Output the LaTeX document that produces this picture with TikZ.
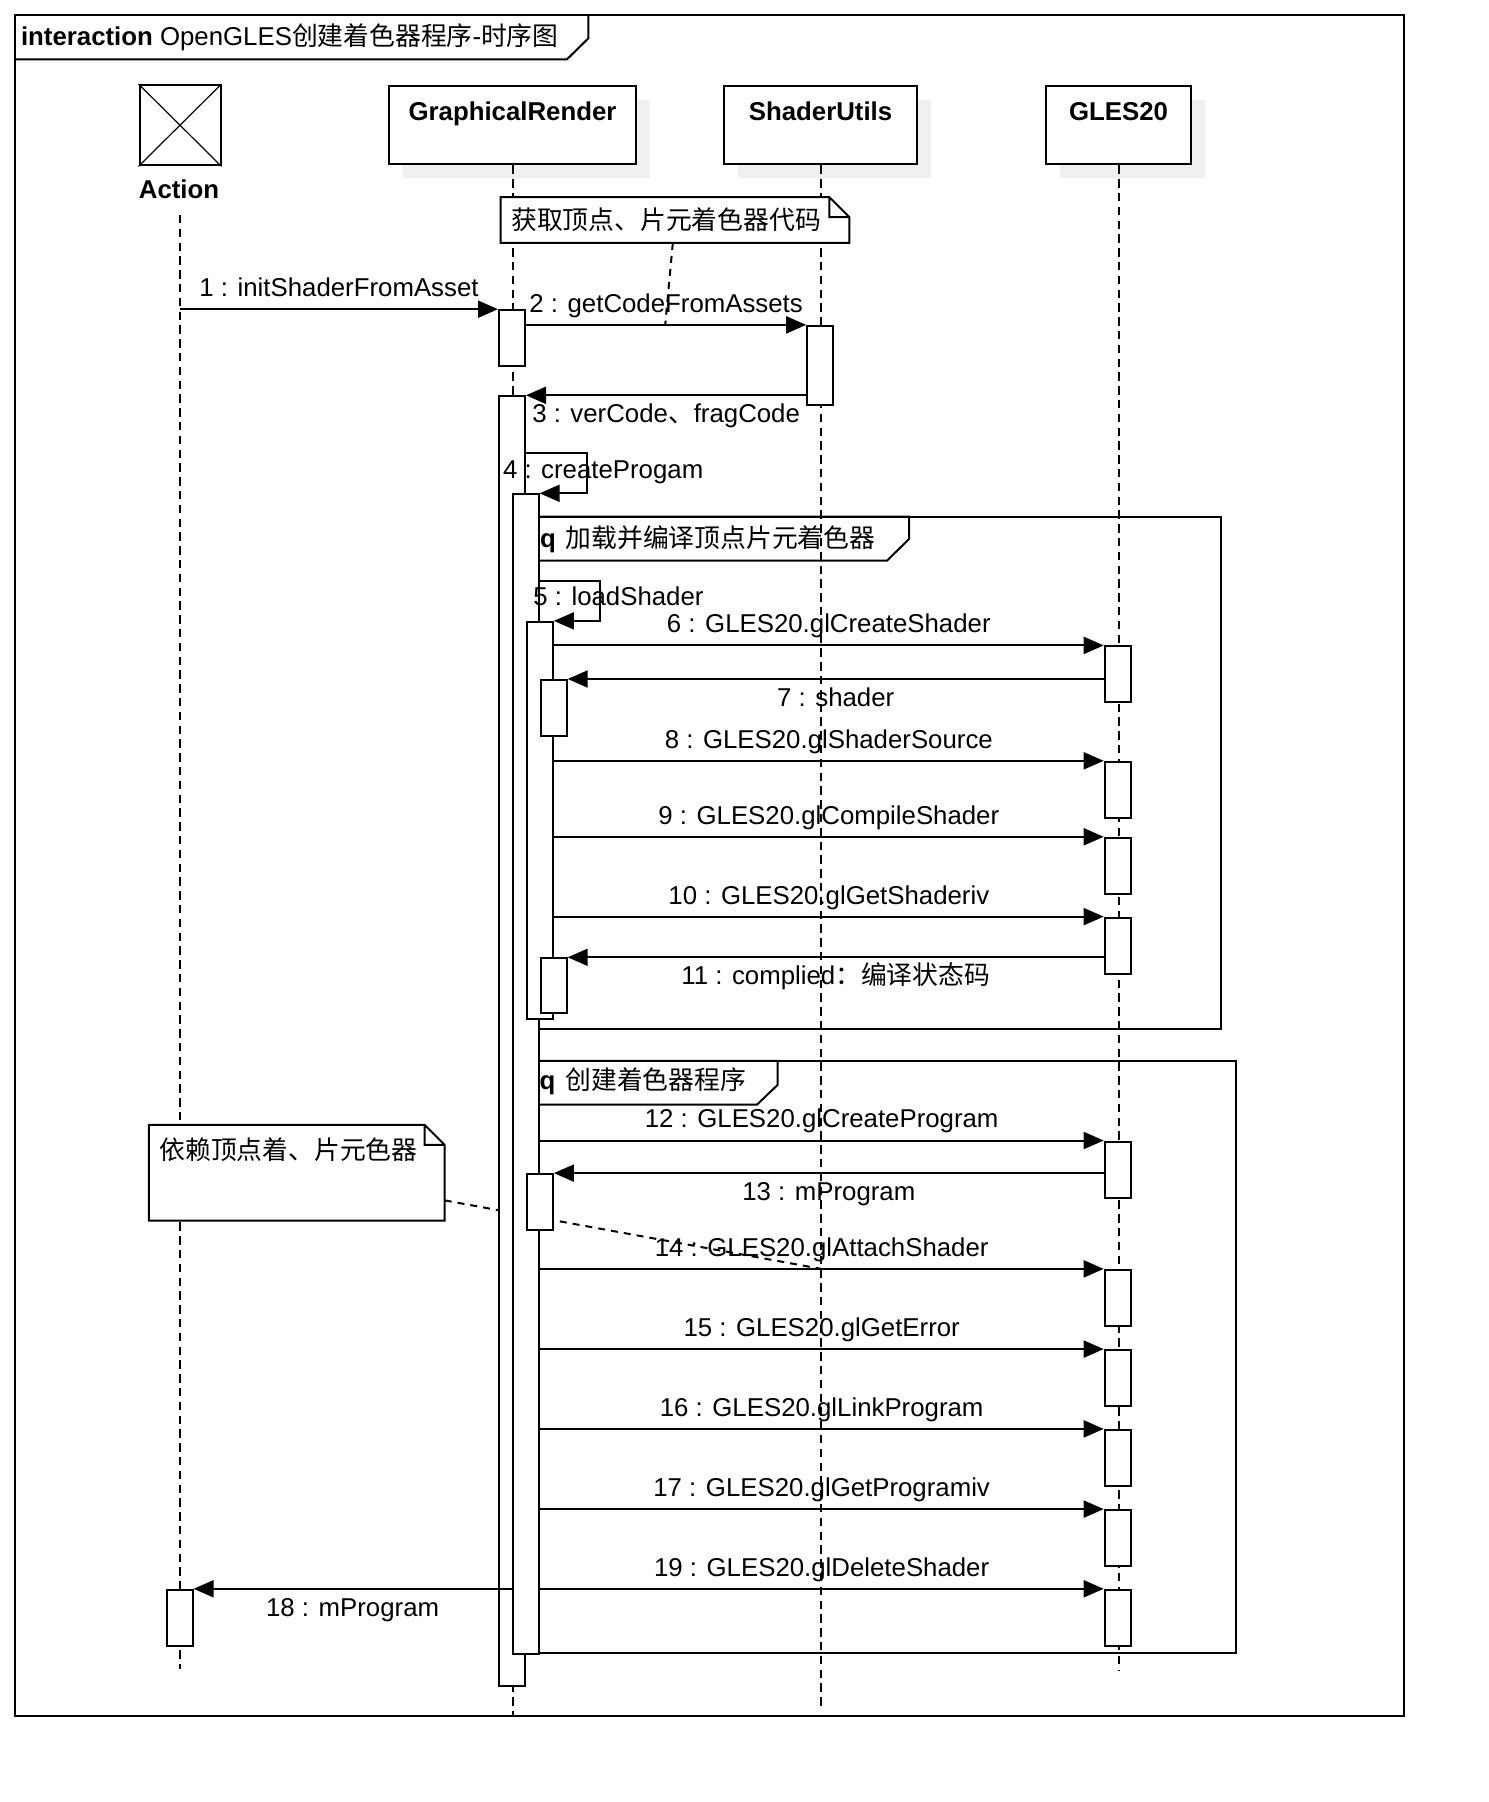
\documentclass[tikz,border=0pt]{standalone}
\usepackage{fontspec}
\setmainfont{Liberation Sans}
\newfontfamily\cjk{Noto Sans CJK SC}
\usetikzlibrary{arrows.meta,shadows}

\begin{document}
\begin{tikzpicture}[x=0.5pt, y=-0.5pt, line width=1pt,
    every node/.style = {font=\fontsize{12.9}{15.5}\selectfont, inner sep=0pt},
    head/.style = {draw, fill=white, text height=17.2pt, text depth=22pt,
      font=\fontsize{12.9}{15.5}\selectfont\bfseries, anchor=north,
      drop shadow={shadow xshift=7pt, shadow yshift=-7pt, fill=black!6, opacity=1}},
    actor/.style = {draw, minimum width=40.5pt, minimum height=40.2pt},
    actbox/.style = {draw, fill=white, minimum width=13pt, anchor=north},
    note/.style = {fill=white, inner xsep=5.3pt, align=left, anchor=north west, outer sep=0pt},
    lifeline/.style = {dash pattern=on 4.2pt off 2.7pt},
    tether/.style = {dash pattern=on 3.5pt off 3pt},
    msg/.style = {-{Triangle[length=10pt, width=8.5pt]}},
    up/.style = {midway, anchor=base, yshift=6.3pt},
    down/.style = {midway, anchor=base, yshift=-13.6pt}]
  \useasboundingbox (0,0) rectangle (1488,1802);

  \draw (15.2,15.3) rectangle (1403.6,1716.2);
  \draw (15.2,59.3) -- (567,59.3) -- (588.4,38.3) -- (588.4,15.3);
  \node[anchor=base west] (title) at (20,45.2) {\textbf{interaction} OpenGLES{\cjk 创建着色器程序}-{\cjk 时序图}};

  \node[actor] (ac) at (180,125.2) {};
  \draw[line width=0.6pt] (ac.north west) -- (ac.south east) (ac.north east) -- (ac.south west);
  \node[anchor=base, font=\fontsize{12.9}{15.5}\selectfont\bfseries] (aclbl) at (179,198.2) {Action};
  \node[head, minimum width=123.2pt] (gr) at (512.5,85) {GraphicalRender};
  \node[head, minimum width=96.4pt] (su) at (820.5,85) {ShaderUtils};
  \node[head, minimum width=72.4pt] (gl) at (1118.5,85) {GLES20};

  \draw[lifeline] (ac |- 0,215) -- (ac |- 0,1669);
  \draw[lifeline] (gr.south) -- (gr |- 0,1716);
  \draw[lifeline] (su.south) -- (su |- 0,1706);
  \draw[lifeline] (gl.south) -- (gl |- 0,1670);

  \coordinate (n1end) at (665.2,324.9);
  \coordinate (n2end) at (821.3,1268.9);
  \draw[tether] (672.8,243) -- (n1end);
  \draw[tether] (444.7,1200.4) -- (n2end);

  \node[note, text height=16.25pt, text depth=6.7pt, text width=163.75pt] (n1) at (500.6,197.1) {\cjk 获取顶点、片元着色器代码};
  \draw (n1.south west) -- (n1.north west) -- ([xshift=-10pt]n1.north east) -- ([yshift=-10pt]n1.north east) -- (n1.south east) -- cycle
    ([xshift=-10pt]n1.north east) |- ([yshift=-10pt]n1.north east);
  \node[note, text height=17.25pt, text depth=30.65pt, text width=137.35pt] (n2) at (148.8,1124.9) {\cjk 依赖顶点着、片元色器};
  \draw (n2.south west) -- (n2.north west) -- ([xshift=-10pt]n2.north east) -- ([yshift=-10pt]n2.north east) -- (n2.south east) -- cycle
    ([xshift=-10pt]n2.north east) |- ([yshift=-10pt]n2.north east);

  \draw (539,516.6) rectangle (1220.6,1028.9);
  \draw (539,516.6) -- (909,516.6) -- (909,539) -- (887.2,560.5) -- (539,560.5);
  \node[anchor=base west] (f1) at (539,547.3) {\textbf{q}\hspace{5pt}{\cjk 加载并编译顶点片元着色器}};
  \draw (538.7,1060.8) rectangle (1236.3,1652.5);
  \draw (538.7,1060.8) -- (777.7,1060.8) -- (777.7,1084.8) -- (756.9,1104.7) -- (538.7,1104.7);
  \node[anchor=base west] (f2) at (538.7,1089.5) {\textbf{q}\hspace{5pt}{\cjk 创建着色器程序}};

  \node[actbox, minimum height=27.75pt] (a1) at (512,309.2) {};
  \node[actbox, minimum height=644.65pt] (a2) at (512,395.3) {};
  \node[actbox, minimum height=579.6pt] (a3) at (525.6,493.3) {};
  \node[actbox, minimum height=198.65pt] (a4) at (539.9,620.9) {};
  \node[actbox, minimum height=28pt] (a5) at (553.7,679) {};
  \node[actbox, minimum height=27.5pt] (a6) at (553.7,957.3) {};
  \node[actbox, minimum height=27.85pt] (a7) at (539.9,1173.1) {};
  \node[actbox, minimum height=39.8pt] (s1) at (820.2,324.9) {};
  \node[actbox, minimum height=28pt] (l1) at (1117.7,645.4) {};
  \node[actbox, minimum height=28pt] (l2) at (1117.7,760.8) {};
  \node[actbox, minimum height=28pt] (l3) at (1117.7,836.8) {};
  \node[actbox, minimum height=28pt] (l4) at (1117.7,916.6) {};
  \node[actbox, minimum height=28pt] (l5) at (1117.7,1140.5) {};
  \node[actbox, minimum height=28pt] (l6) at (1117.7,1268.9) {};
  \node[actbox, minimum height=28pt] (l7) at (1117.7,1349.1) {};
  \node[actbox, minimum height=28pt] (l8) at (1117.7,1428.9) {};
  \node[actbox, minimum height=28pt] (l9) at (1117.7,1509.1) {};
  \node[actbox, minimum height=28pt] (l10) at (1117.7,1588.8) {};
  \node[actbox, minimum height=28pt] (b1) at (179.6,1588.8) {};

  \draw[msg] (ac |- a1.north) -- node[up] {1 : initShaderFromAsset} (a1.north west);
  \draw[msg] (a1.east |- s1.north) -- node[up] {2 : getCodeFromAssets} (s1.north west);
  \draw[msg] (s1.west |- a2.north) -- node[down] {3 : verCode{\cjk 、}fragCode} (a2.north east);
  \draw[msg] (a2.east |- 0,452.7) -- ++(60.5,0) |- (a3.north east);
  \node[anchor=base west] (m4) at (502,478.4) {4 : createProgam};
  \draw[msg] (a3.east |- 0,580.9) -- ++(60,0) |- (a4.north east);
  \node[anchor=base west] (m5) at (532.3,605.8) {5 : loadShader};
  \draw[msg] (a4.east |- l1.north) -- node[up] {6 : GLES20.glCreateShader} (l1.north west);
  \draw[msg] (l1.west |- a5.north) -- node[down] {7 : shader} (a5.north east);
  \draw[msg] (a4.east |- l2.north) -- node[up] {8 : GLES20.glShaderSource} (l2.north west);
  \draw[msg] (a4.east |- l3.north) -- node[up] {9 : GLES20.glCompileShader} (l3.north west);
  \draw[msg] (a4.east |- l4.north) -- node[up] {10 : GLES20.glGetShaderiv} (l4.north west);
  \draw[msg] (l4.west |- a6.north) -- node[down] {11 : complied{\cjk ：编译状态码}} (a6.north east);
  \draw[msg] (a3.east |- l5.north) -- node[up] {12 : GLES20.glCreateProgram} (l5.north west);
  \draw[msg] (l5.west |- a7.north) -- node[down] {13 : mProgram} (a7.north east);
  \draw[msg] (a3.east |- l6.north) -- node[up] {14 : GLES20.glAttachShader} (l6.north west);
  \draw[msg] (a3.east |- l7.north) -- node[up] {15 : GLES20.glGetError} (l7.north west);
  \draw[msg] (a3.east |- l8.north) -- node[up] {16 : GLES20.glLinkProgram} (l8.north west);
  \draw[msg] (a3.east |- l9.north) -- node[up] {17 : GLES20.glGetProgramiv} (l9.north west);
  \draw[msg] (a3.east |- l10.north) -- node[up] {19 : GLES20.glDeleteShader} (l10.north west);
  \draw[msg] (a3.west |- b1.north) -- node[down] {18 : mProgram} (b1.north east);
\end{tikzpicture}
\end{document}
